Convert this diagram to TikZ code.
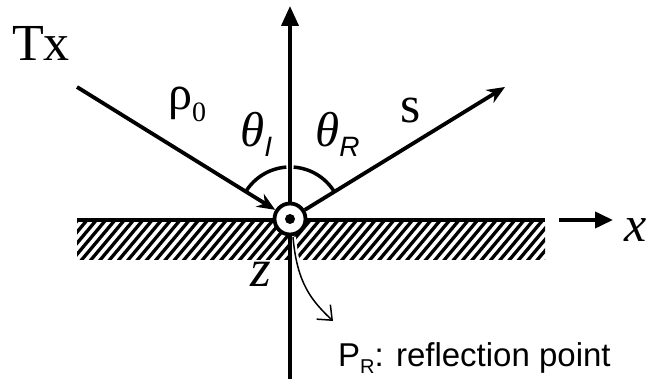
\documentclass[tikz,border=0pt]{standalone}
\usepackage{fontspec}
\setmainfont{Liberation Serif}
\setsansfont{Liberation Sans}
\usetikzlibrary{arrows.meta,calc}

\newcommand{\bigfont}{\fontsize{52}{60}\selectfont}
\newcommand{\subfont}{\fontsize{28}{30}\selectfont}

\begin{document}
\begin{tikzpicture}[x=1pt,y=1pt,
    ray/.style={line width=3.8pt},
    hatch/.style={line width=3.3pt},
    lbl/.style={inner sep=0pt,anchor=base west,font=\bigfont}]

  \useasboundingbox (0,0) rectangle (649,379);

  % Ground (hatched)
  \begin{scope}
    \clip (77,119) rectangle (545,157);
    \foreach \i in {0,...,55}
      \draw[hatch] (77+\i*9.3-36,115) -- ++(36,43);
  \end{scope}

  % Surface
  \draw[ray] (77,159) -- (545,159);

  % Points of the picture
  \coordinate (zbot) at (290,0);
  \coordinate (ztop) at (290,373);
  \coordinate (src) at (77,292);
  \coordinate (rx) at (505,292);
  \coordinate (pfoot) at (293,142);
  \coordinate (prtip) at (333,58);
  \coordinate (xbeg) at (559,159);
  \coordinate (xend) at (613,159);

  % Halo of the pointer
  \draw[white, line width=6pt] (pfoot) .. controls (297,95) and (312,78) .. (prtip);

  % z axis
  \draw[ray, -{Triangle[length=20pt,width=17pt]}] (zbot) -- (ztop);

  % Reflection point
  \node[circle, draw, line width=3.8pt, fill=white, minimum size=31pt,
        inner sep=0pt] (pr) at (290,160) {};
  \fill (pr.center) circle (5);

  % Incident and reflected rays
  \draw[ray, -{Stealth[length=18pt,width=15pt]}] (src) -- (pr);
  \draw[ray, -{Stealth[length=18pt,width=15pt]}] (pr) -- (rx);

  % Angles
  \draw[line width=3.5pt] ($(pr.center)+(148.2:52)$) arc[start angle=148.2, end angle=94, radius=52];
  \draw[line width=3.5pt] ($(pr.center)+(86:52)$) arc[start angle=86, end angle=31.8, radius=52];

  % x direction
  \draw[ray, -{Triangle[length=18pt,width=16pt]}] (xbeg) -- (xend);

  % Pointer to the reflection point
  \draw[line width=1.5pt, -{Straight Barb[length=12pt,width=20pt]}]
    (pfoot) .. controls (297,95) and (312,78) .. (prtip);

  % Labels
  \node[lbl] (tx) at (12,318) {Tx};
  \node[lbl, font=\fontsize{48}{56}\selectfont] (rho) at (168,269) {ρ\raisebox{-12pt}{\subfont 0}};
  \node[lbl, font=\fontsize{49}{56}\selectfont\itshape] (thi) at (240,232)
    {θ\raisebox{-10pt}{\subfont\sffamily I}};
  \node[lbl, font=\fontsize{49}{56}\selectfont\itshape] (thr) at (315,232)
    {θ\raisebox{-10pt}{\subfont\sffamily R}};
  \node[lbl] (s) at (400,256) {s};
  \node[lbl, font=\fontsize{53}{60}\selectfont\itshape] (z) at (250,92) {z};
  \node[lbl, font=\fontsize{50}{58}\selectfont\itshape] (x) at (624,137) {x};
  \node[lbl, font=\fontsize{33}{38}\selectfont\sffamily] (prtext) at (338,12)
    {P\raisebox{-7pt}{\fontsize{20}{24}\selectfont R}: reflection point};

\end{tikzpicture}
\end{document}
